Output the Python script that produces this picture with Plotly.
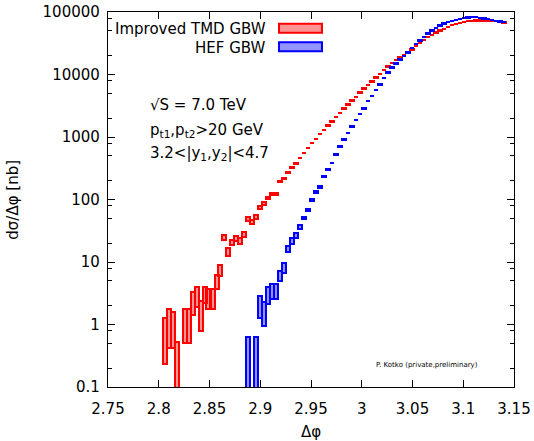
import math
import plotly.graph_objects as go

# ---------------- data ----------------
# bin centres in delta-phi (bin width pi/800)
phi = [2.8058, 2.8098, 2.8137, 2.8176, 2.8215, 2.8255, 2.8294, 2.8333, 2.8372, 2.8412,
       2.8451, 2.8490, 2.8530, 2.8569, 2.8608, 2.8647, 2.8687, 2.8726, 2.8765, 2.8805,
       2.8844, 2.8883, 2.8922, 2.8962, 2.9001, 2.9040, 2.9080, 2.9119, 2.9158, 2.9197,
       2.9237, 2.9276, 2.9315, 2.9354, 2.9394, 2.9433, 2.9472, 2.9512, 2.9551, 2.9590,
       2.9629, 2.9669, 2.9708, 2.9747, 2.9787, 2.9826, 2.9865, 2.9904, 2.9944, 2.9983,
       3.0022, 3.0062, 3.0101, 3.0140, 3.0179, 3.0219, 3.0258, 3.0297, 3.0336, 3.0376,
       3.0415, 3.0454, 3.0494, 3.0533, 3.0572, 3.0611, 3.0651, 3.0690, 3.0729, 3.0769,
       3.0808, 3.0847, 3.0886, 3.0926, 3.0965, 3.1004, 3.1044, 3.1083, 3.1122, 3.1161,
       3.1201, 3.1240, 3.1279, 3.1318, 3.1358, 3.1397]
bin_width = math.pi / 800

# Improved TMD GBW: cross section [nb] and relative uncertainty [%]
tmd_xsec = [0.75, 1.085, 1.01, 0.29, None, 1.13, 1.13, 2.335, 2.92, 1.60,
            3.10, 2.75, 2.75, 5.015, 7.48, 24.8, 14.65, 20.9, 23.6, 22.0,
            27.55, 48.35, 43.65, 53.35, 73.75, 85.45, 106, 124.5, 124.5, 197.5,
            219, 267, 321, 376, 463, 557, 670, 805, 933, 1106,
            1282, 1525, 1766, 2100, 2433, 2853, 3306, 3831, 4393, 5146,
            5962, 6833, 7714, 8937, 10250, 11700, 13420, 15150, 16920, 18700,
            20500, 22900, 25100, 28560, 32140, 35630, 39360, 43350, 46990, 50580,
            54070, 57540, 61240, 64270, 67140, 69490, 70990, 72280, 73110, 73110,
            73110, 72610, 71780, 70990, 69660, 67920]
tmd_unc = [69, 61, 59, 83, None, 55, 55, 40, 35, 51,
           30, 35, 35, 25, 20, 10.5, 14.7, 9.1, 9.3, 10.5,
           8.5, 7.3, 8.1, 7.4, 5.5, 5.6, 4.7, 3.6, 3.6, 1.8,
           1.8, 1.5, 1.5, 1.2, 1.2, 1.0, 1.0, 0.8, 0.8, 0.8,
           0.7, 0.7, 0.7, 0.6, 0.6, 0.6, 0.6, 0.5, 0.5, 0.5,
           0.5, 0.5, 0.5, 0.5, 0.5, 0.5, 0.5, 0.5, 0.5, 0.5,
           0.5, 0.5, 0.5, 0.5, 0.5, 0.5, 0.5, 0.5, 0.5, 0.5,
           0.5, 0.5, 0.5, 0.5, 0.5, 0.5, 0.5, 0.5, 0.5, 0.5,
           0.5, 0.5, 0.5, 0.5, 0.5, 0.5]

# HEF GBW
hef_xsec = [None] * 21 + [0.345, None, 0.345, 2.055, 1.595, 3.03, 3.525, 3.525, 6.095,
            8.215, 16.4, 21.55, 26.85, 36.95, 50.8, 68.9, 97.1, 132, 159,
            230, 301, 385, 524, 711, 920, 1165, 1485, 1853, 2312,
            2853, 3733, 4556, 5685, 6906, 8715, 10760, 12930, 14990, 17370,
            19760, 22480, 26530, 30740, 34990, 39360, 45260, 50580, 55850, 60800,
            65450, 69180, 72280, 74990, 77800, 80170, 81660, 82600, 82300, 80780,
            78700, 76400, 74470, 72280, 70470, 68700]
hef_unc = [None] * 21 + [85.5, None, 85.5, 37.2, 41.7, 29.7, 26.5, 26.5, 19.4,
           17.7, 11.6, 10.9, 8.8, 7.4, 5.0, 4.0, 3.5, 3.0, 2.5,
           2.0, 2.0, 1.5, 1.5, 1.2, 1.2, 1.0, 1.0, 0.8, 0.8,
           0.7, 0.7, 0.6, 0.6, 0.6, 0.5, 0.5, 0.5, 0.5, 0.5,
           0.5, 0.5, 0.5, 0.5, 0.5, 0.5, 0.5, 0.5, 0.5, 0.5,
           0.5, 0.5, 0.5, 0.5, 0.5, 0.5, 0.5, 0.5, 0.5, 0.5,
           0.5, 0.5, 0.5, 0.5, 0.5, 0.5]

x_tickvals = [2.75, 2.8, 2.85, 2.9, 2.95, 3.0, 3.05, 3.1, 3.15]
x_ticktext = ["2.75", "2.8", "2.85", "2.9", "2.95", "3", "3.05", "3.1", "3.15"]
y_tickvals = [0.1, 1, 10, 100, 1000, 10000, 100000]
y_ticktext = ["0.1", "1", "10", "100", "1000", "10000", "100000"]
y_minor = [m * 10.0 ** e for e in range(-1, 5) for m in (2, 5, 8)]

series_names = ["Improved TMD GBW", "HEF GBW"]
series_line = ["rgb(255,0,0)", "rgb(0,0,255)"]
series_fill = ["rgba(255,0,0,0.42)", "rgba(0,0,255,0.42)"]


def band(vals, unc):
    lo, h = [], []
    for v, u in zip(vals, unc):
        if v is None:
            lo.append(None); h.append(None)
        else:
            a = v * (1 - u / 100.0)
            b = v * (1 + u / 100.0)
            lo.append(a); h.append(b - a)
    return lo, h


FONT = "DejaVu Sans, Verdana, sans-serif"
fig = go.Figure()
for name, vals, unc, lc, fc in zip(series_names, [tmd_xsec, hef_xsec], [tmd_unc, hef_unc],
                                   series_line, series_fill):
    base, height = band(vals, unc)
    fig.add_trace(go.Bar(x=phi, y=height, base=base, width=bin_width, name=name,
                         marker=dict(color=fc, line=dict(color=lc, width=2)),
                         showlegend=False))

# plot area in pixels
L, R, T, B = 108, 514, 12, 387
W, H = R - L, B - T


def px(x):
    return (x - L) / W


def py(y):
    return (B - y) / H


ann = []
ann.append(dict(text="√S = 7.0 TeV", x=px(148), y=py(105), xanchor="left", yanchor="middle"))
ann.append(dict(text="p<sub>t1</sub>,p<sub>t2</sub>>20 GeV", x=px(148), y=py(130),
                xanchor="left", yanchor="middle"))
ann.append(dict(text="3.2<|y<sub>1</sub>,y<sub>2</sub>|<4.7", x=px(148), y=py(153),
                xanchor="left", yanchor="middle"))
ann.append(dict(text=series_names[0], x=px(268), y=py(29), xanchor="right", yanchor="middle"))
ann.append(dict(text=series_names[1], x=px(268), y=py(47.5), xanchor="right", yanchor="middle"))
ann.append(dict(text="Δφ", x=0.5, y=py(432), xanchor="center", yanchor="middle"))
ann.append(dict(text="dσ/Δφ [nb]", x=px(12.7), y=py(200), xanchor="center", yanchor="middle",
                textangle=-90))
for a in ann:
    a.update(xref="paper", yref="paper", showarrow=False, font=dict(family=FONT, size=15, color="black"))
ann.append(dict(text="P. Kotko (private,preliminary)", x=px(427), y=py(365), xref="paper",
                yref="paper", showarrow=False, xanchor="center", yanchor="middle",
                font=dict(family=FONT, size=7, color="black")))

shapes = []
for i, (lc, fc) in enumerate(zip(series_line, series_fill)):
    yc = [28.3, 46.7][i]
    shapes.append(dict(type="rect", xref="paper", yref="paper", x0=px(279), x1=px(322),
                       y0=py(yc + 4.5), y1=py(yc - 4.5), line=dict(color=lc, width=2),
                       fillcolor=fc))

fig.update_layout(
    width=534, height=441,
    margin=dict(l=L, r=534 - R, t=T, b=441 - B, pad=0, autoexpand=False),
    paper_bgcolor="white", plot_bgcolor="white",
    barmode="overlay", bargap=0,
    annotations=ann, shapes=shapes,
    font=dict(family=FONT, size=15, color="black"),
)
fig.update_xaxes(range=[2.75, 3.15], tickvals=x_tickvals, ticktext=x_ticktext, automargin=False,
                 ticks="inside", ticklen=7, tickwidth=1, tickcolor="black", ticklabelstandoff=8,
                 showline=True, linecolor="black", linewidth=1.3, mirror="allticks",
                 showgrid=False, zeroline=False, tickfont=dict(family=FONT, size=15))
fig.update_yaxes(type="log", range=[-1, 5], tickvals=y_tickvals, ticktext=y_ticktext, automargin=False,
                 ticks="inside", ticklen=7, tickwidth=1, tickcolor="black", ticklabelstandoff=4,
                 minor=dict(tickvals=y_minor, ticks="inside", ticklen=4, tickcolor="black"),
                 showline=True, linecolor="black", linewidth=1.3, mirror="allticks",
                 showgrid=False, zeroline=False, tickfont=dict(family=FONT, size=15))

fig.write_html("out.html", config={"displayModeBar": False},
               post_script="document.body.style.margin='0px';document.body.style.overflow='hidden';")
